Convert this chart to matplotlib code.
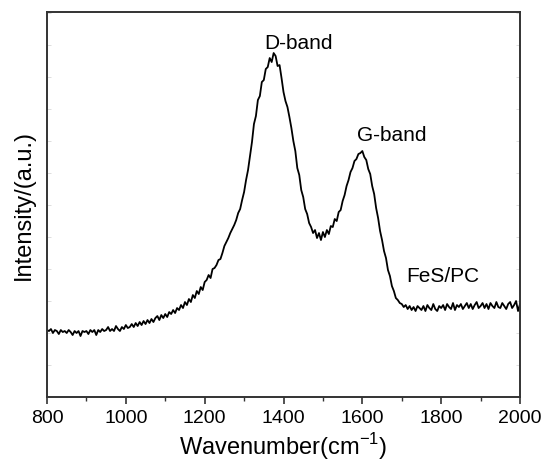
import numpy as np
import matplotlib.pyplot as plt
from matplotlib.ticker import MultipleLocator

plt.rcParams['font.family'] = ['Liberation Sans', 'DejaVu Sans']
plt.rcParams['mathtext.fontset'] = 'custom'
plt.rcParams['mathtext.rm'] = 'Liberation Sans'

# Raman spectrum of FeS/PC, 5 cm^-1 steps from 800 to 2000
wavenumber = np.arange(800, 2001, 5)
intensity = [
    67, 66, 68, 64, 67, 66, 63, 67, 65, 66,
    64, 67, 65, 62, 66, 64, 66, 61, 66, 65,
    66, 63, 67, 65, 67, 62, 67, 65, 68, 66,
    67, 70, 66, 68, 66, 71, 68, 66, 70, 68,
    72, 69, 70, 73, 70, 74, 71, 75, 72, 76,
    73, 77, 74, 78, 75, 79, 81, 77, 82, 79,
    83, 80, 85, 83, 87, 84, 89, 87, 92, 89,
    95, 92, 98, 95, 102, 99, 106, 103, 110, 107,
    115, 117, 122, 119, 128, 129, 132, 137, 138, 144,
    151, 155, 159, 164, 168, 172, 177, 184, 188, 197,
    205, 217, 227, 241, 255, 273, 281, 297, 301, 315,
    317, 328, 330, 339, 335, 344, 341, 331, 332, 319,
    305, 296, 290, 280, 269, 256, 246, 229, 222, 207,
    200, 188, 183, 174, 170, 164, 167, 159, 164, 157,
    165, 160, 167, 163, 171, 170, 178, 176, 185, 187,
    196, 202, 211, 217, 225, 229, 236, 238, 243, 244,
    246, 240, 237, 228, 223, 211, 203, 189, 179, 166,
    157, 146, 139, 127, 121, 111, 106, 99, 97, 94,
    93, 90, 92, 88, 91, 87, 90, 86, 91, 89,
    87, 91, 86, 92, 89, 87, 93, 88, 86, 91,
    89, 92, 87, 93, 90, 88, 94, 87, 92, 90,
    93, 88, 91, 94, 89, 93, 88, 92, 95, 89,
    91, 94, 89, 93, 88, 94, 91, 89, 95, 90,
    89, 94, 91, 88, 93, 95, 89, 92, 96, 86,
    93,
]

fig = plt.figure(figsize=(5.44, 4.63), dpi=100)
ax = fig.add_axes([0.0864, 0.1425, 0.8695, 0.8315])

ax.plot(wavenumber, intensity, color='black', lw=1.3)

ax.text(1438, 354, 'D-band', fontsize=15, ha='center', va='center')
ax.text(1675, 262, 'G-band', fontsize=15, ha='center', va='center')
ax.text(1803, 121, 'FeS/PC', fontsize=15, ha='center', va='center')

ax.set_xlim(800, 2000)
ax.set_ylim(0, 385)
ax.xaxis.set_major_locator(MultipleLocator(200))
ax.xaxis.set_minor_locator(MultipleLocator(100))
ax.yaxis.set_major_locator(MultipleLocator(32))
ax.tick_params(axis='x', which='major', direction='out', length=5, width=1.2,
               labelsize=14, color='#333333', pad=4)
ax.tick_params(axis='x', which='minor', direction='out', length=3, width=1.0,
               color='#333333')
ax.tick_params(axis='y', which='major', direction='in', length=3, width=0.5,
               color='#d0d0d0', left=True, right=True, labelleft=False)

for s in ax.spines.values():
    s.set_linewidth(1.4)
    s.set_color('#333333')

ax.set_xlabel('Wavenumber(cm$^{-1}$)', fontsize=17, labelpad=3)
ax.set_ylabel('Intensity/(a.u.)', fontsize=17, labelpad=9)

fig.savefig('out.png', dpi=100)
